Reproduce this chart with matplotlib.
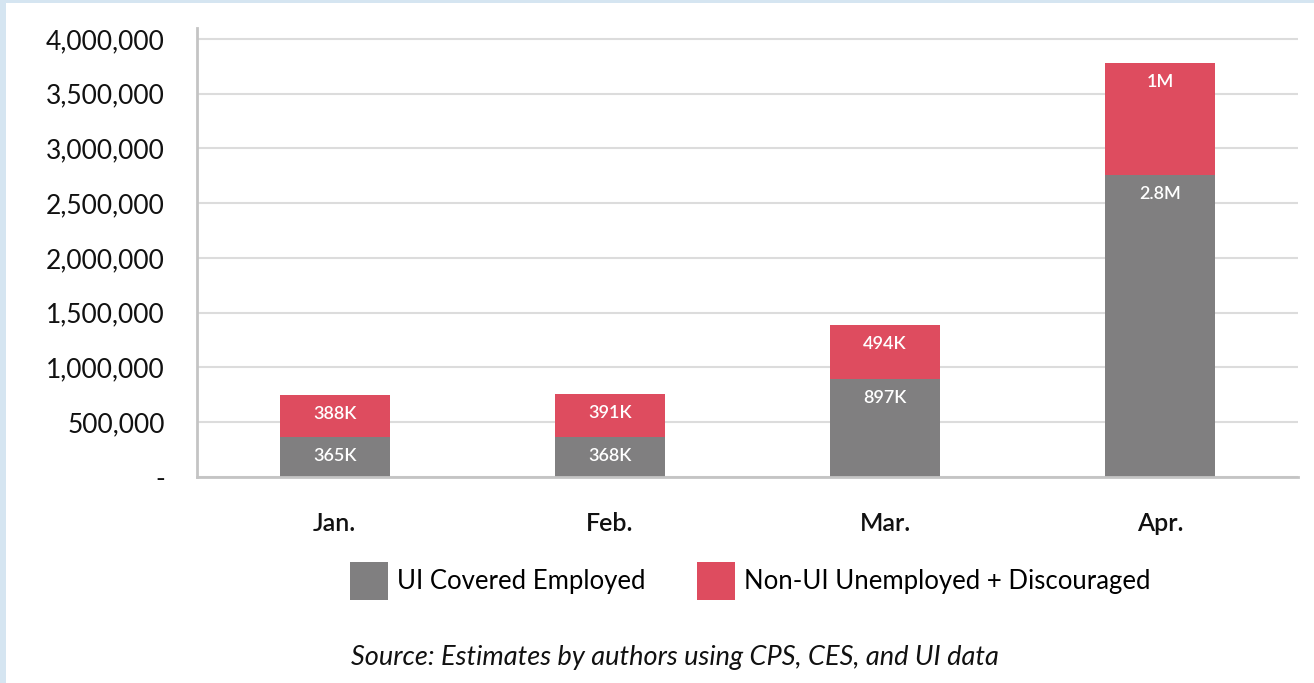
import matplotlib
matplotlib.use("Agg")
import matplotlib.pyplot as plt
from matplotlib.patches import Rectangle, Patch
from matplotlib.ticker import FuncFormatter

# Données
mois = ["Jan.", "Feb.", "Mar.", "Apr."]
ui_couverts = [365000, 368000, 897000, 2760000]
non_ui = [388000, 391000, 494000, 1020000]
etiq_ui = ["365K", "368K", "897K", "2.8M"]
etiq_non_ui = ["388K", "391K", "494K", "1M"]
yticks = [0, 500000, 1000000, 1500000, 2000000, 2500000, 3000000, 3500000, 4000000]

gris = "#807f80"
rouge = "#de4c5f"
police = "Lato"

plt.rcParams["font.family"] = [police, "DejaVu Sans"]

fig = plt.figure(figsize=(13.14, 6.83), dpi=100)
fig.patch.set_facecolor("white")

# bordure bleu clair (gauche et haut)
fig.patches.append(Rectangle((0, 0), 6 / 1314, 1, transform=fig.transFigure,
                             facecolor="#d5e5f1", edgecolor="none", zorder=0))
fig.patches.append(Rectangle((0, 1 - 3 / 683), 1, 3 / 683, transform=fig.transFigure,
                             facecolor="#d5e5f1", edgecolor="none", zorder=0))

ax = fig.add_axes([197 / 1314, 1 - 477 / 683, (1298 - 197) / 1314, 449 / 683])

x = list(range(len(mois)))
ax.bar(x, ui_couverts, width=0.4, color=gris, zorder=2)
ax.bar(x, non_ui, width=0.4, bottom=ui_couverts, color=rouge, zorder=2)

# étiquettes dans les barres
for i in x:
    ax.annotate(etiq_ui[i], (i, ui_couverts[i]), xytext=(0, -14), textcoords="offset points",
                ha="center", va="center", color="white", fontsize=13, fontweight="semibold")
    ax.annotate(etiq_non_ui[i], (i, ui_couverts[i] + non_ui[i]), xytext=(0, -14),
                textcoords="offset points", ha="center", va="center", color="white",
                fontsize=13, fontweight="semibold")

ax.set_xlim(-0.5, 3.5)
ax.set_ylim(0, 4100000)
ax.set_yticks(yticks)
ax.yaxis.set_major_formatter(FuncFormatter(lambda v, p: "-" if v == 0 else f"{int(v):,}"))
ax.set_xticks(x)
ax.set_xticklabels(mois)
ax.grid(axis="y", color="#dcdcdc", linewidth=1.5, zorder=0)
ax.set_axisbelow(True)

for s in ["top", "right"]:
    ax.spines[s].set_visible(False)
ax.spines["left"].set_color("#c4c4c4")
ax.spines["left"].set_linewidth(2)
ax.spines["bottom"].set_color("#c4c4c4")
ax.spines["bottom"].set_linewidth(2)

ax.tick_params(axis="y", length=0, pad=23, labelsize=19, labelcolor="#111111")
ax.tick_params(axis="x", length=0, pad=25, labelsize=18, labelcolor="#111111")
for t in ax.get_xticklabels():
    t.set_fontweight("semibold")

# légende
handles = [Patch(facecolor=gris, label="UI Covered Employed"),
           Patch(facecolor=rouge, label="Non-UI Unemployed + Discouraged")]
fig.legend(handles=handles, loc="center", bbox_to_anchor=(750 / 1314, 1 - 581 / 683),
           ncol=2, frameon=False, fontsize=18.5, handlelength=1.48, handleheight=1.9,
           handletextpad=0.35, columnspacing=2.0)

fig.text(675 / 1314, 1 - 657 / 683, "Source: Estimates by authors using CPS, CES, and UI data",
         ha="center", va="center", fontsize=19.5, style="italic", color="#111111")

fig.savefig("out.png", dpi=100)
